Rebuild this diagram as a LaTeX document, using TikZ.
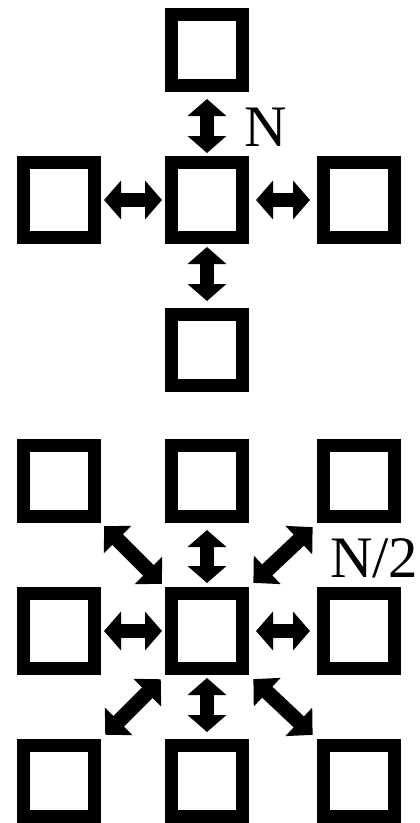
\documentclass[tikz,border=0pt]{standalone}
\usepackage{fontspec}
\setmainfont{Liberation Serif}
\usetikzlibrary{arrows.meta}
\begin{document}
\begin{tikzpicture}[x=1bp,y=-1bp,
  cell/.style={draw, line width=13bp, minimum width=71bp, minimum height=71bp,
               inner sep=0pt, outer sep=6.5bp},
  tallcell/.style={cell, minimum height=75bp},
  link/.style={line width=14bp,
               {Triangle[length=17bp,width=38bp]}-{Triangle[length=17bp,width=38bp]}},
  dlink/.style={line width=15bp,
               {Triangle[length=19bp,width=38bp]}-{Triangle[length=19bp,width=38bp]}},
  lbl/.style={anchor=base west, inner sep=0pt, font=\fontsize{59}{59}\selectfont}
]
\useasboundingbox (0,0) rectangle (419,823);

% Four-neighbour layout
\node[cell]     (a1) at (207,50)  {};
\node[tallcell] (a2) at (59,200)  {};
\node[tallcell] (a3) at (207,200) {};
\node[tallcell] (a4) at (359,200) {};
\node[cell]     (a5) at (207,350) {};

\draw[link, shorten <=7bp, shorten >=3bp] (a1.south) -- (a3.north);
\draw[link, shorten <=3bp, shorten >=3bp] (a2.east) -- (a3.west);
\draw[link, shorten <=7bp, shorten >=7bp] (a3.east) -- (a4.west);
\draw[link, shorten <=3bp, shorten >=7bp] (a3.south) -- (a5.north);

\node[lbl] (n1) at (244,146) {N};

% Eight-neighbour layout
\node[cell]     (b1) at (59,481)  {};
\node[cell]     (b2) at (207,481) {};
\node[cell]     (b3) at (359,481) {};
\node[tallcell] (b4) at (59,631)  {};
\node[tallcell] (b5) at (207,631) {};
\node[tallcell] (b6) at (359,631) {};
\node[cell]     (b7) at (59,781)  {};
\node[cell]     (b8) at (207,781) {};
\node[cell]     (b9) at (359,781) {};

\draw[link, shorten <=7bp, shorten >=4bp] (b2.south) -- (b5.north);
\draw[link, shorten <=3bp, shorten >=3bp] (b4.east) -- (b5.west);
\draw[link, shorten <=7bp, shorten >=7bp] (b5.east) -- (b6.west);
\draw[link, shorten <=3bp, shorten >=7bp] (b5.south) -- (b8.north);

\draw[dlink, shorten <=4.5bp, shorten >=4.5bp] (b1.south east) -- (b5.north west);
\draw[dlink, shorten <=6bp, shorten >=6bp] (b3.south west) -- (b5.north east);
\draw[dlink, shorten <=6bp, shorten >=6bp] (b5.south west) -- (b7.north east);
\draw[dlink, shorten <=6bp, shorten >=6bp] (b5.south east) -- (b9.north west);

\node[lbl] (n2) at (330,577) {N/2};
\end{tikzpicture}
\end{document}
